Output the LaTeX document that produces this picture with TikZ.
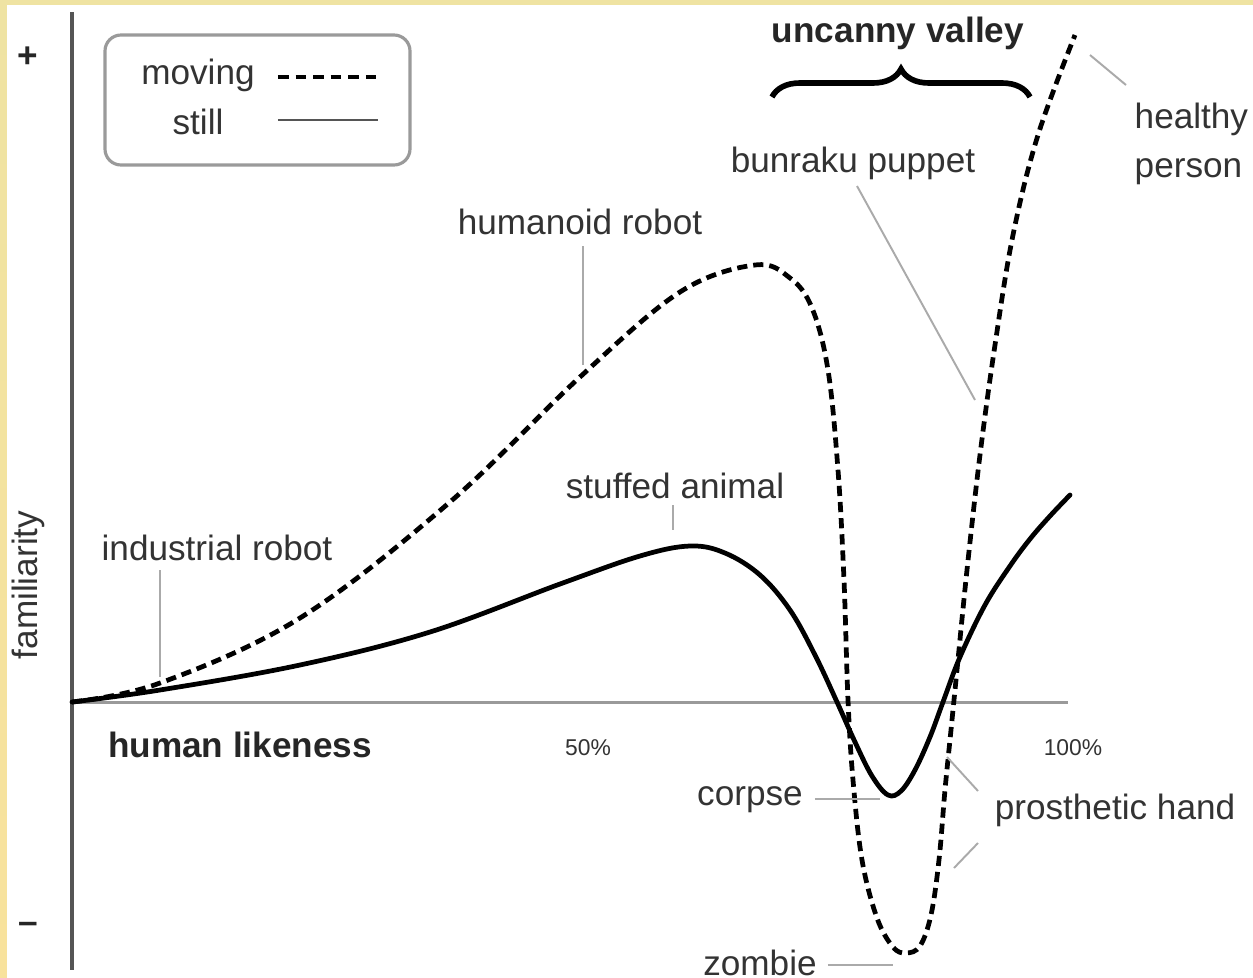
\documentclass[tikz,border=0pt]{standalone}
\usepackage{fontspec}
\setmainfont{Liberation Sans}
\usetikzlibrary{decorations.pathreplacing}
\definecolor{txt}{HTML}{333333}
\definecolor{axisdark}{HTML}{555555}
\definecolor{axislight}{HTML}{9A9A9A}
\definecolor{leadc}{HTML}{AAAAAA}
\definecolor{bandy}{HTML}{EFE3A2}
\definecolor{bandg}{HTML}{BFDDAE}
\definecolor{bandb}{HTML}{F8E29C}
\tikzset{
  lbl/.style={text=txt, font=\fontsize{10}{12}\selectfont, inner sep=0pt},
  blbl/.style={text=black!85, font=\fontsize{10}{12}\selectfont\bfseries, inner sep=0pt},
  pct/.style={text=txt, font=\fontsize{6.5}{8}\selectfont, inner sep=0pt},
  leader/.style={draw=leadc, line width=0.55pt},
  stillc/.style={draw=black, line width=1.35pt, line cap=round},
  movingc/.style={draw=black, line width=1.35pt, dash pattern=on 2.9pt off 1.7pt},
}
\begin{document}
\begin{tikzpicture}[x=0.01cm,y=-0.01cm]
\useasboundingbox (0,0) rectangle (1253,978);
\fill[white] (0,0) rectangle (1253,978);
% border bands
\fill[bandy] (0,0) rectangle (1253,5);
\shade[top color=bandy, middle color=bandg, bottom color=bandb] (0,0) rectangle (7,978);

% axes
\coordinate (O) at (72,702);
\coordinate (ytop) at (72,12);
\coordinate (ybot) at (72,970);
\coordinate (xend) at (1068,702);
\draw[axislight, line width=0.85pt] (O) -- (xend);
\draw[axisdark, line width=0.9pt] (ytop) -- (ybot);

% axis labels
\node[blbl] (plus) at (28,57) {+};
\node[blbl] (minus) at (28,928) {\textbf{–}};
\node[lbl, rotate=90] (fam) at (28,585) {familiarity};
\node[blbl] (hl) at (240,745) {human likeness};
\node[pct] (p50) at (588,748) {50\%};
\node[pct] (p100) at (1073,748) {100\%};

% legend
\draw[draw=axislight, line width=0.9pt, rounded corners=0.16cm] (105,35) rectangle (410,165);
\node[lbl] (lmov) at (198,75) {moving};
\node[lbl] (lsti) at (198,122) {still};
\coordinate (lm1) at (278,77);
\coordinate (lm2) at (381,77);
\coordinate (ls1) at (278,120);
\coordinate (ls2) at (378,120);
\draw[movingc, dash pattern=on 3pt off 2pt] (lm1) -- (lm2);
\draw[draw=axisdark, line width=0.8pt] (ls1) -- (ls2);

% uncanny valley
\node[blbl] (uv) at (898,33) {uncanny valley};
\coordinate (br1) at (772,97);
\coordinate (br2) at (1030,97);
\draw[line width=1.6pt, decorate, decoration={brace, amplitude=0.28cm}] (br1) -- (br2);

% still curve
\draw[stillc] plot[smooth, tension=0.6] coordinates {
(72,702) (160,690) (300,665) (430,632) (560,584) (640,556) (690,546)
(725,553) (760,575) (790,610) (815,655) (837,702) (855,742) (872,776) (888,795)
(901,791) (915,770) (930,737) (943,702) (960,657) (985,605) (1010,566) (1030,539)
(1050,516) (1070,495)};

% moving curve
\draw[movingc] plot[smooth, tension=0.6] coordinates {
(72,702) (160,683) (300,618) (450,502) (580,377) (680,292) (755,265)
(790,278) (812,308) (828,370) (838,470) (844,580) (848,700) (853,780) (862,860)
(877,918) (893,947) (906,953) (920,946) (931,915) (939,860) (945,790) (951,730)
(957,670) (967,570) (980,455) (995,345) (1013,235) (1038,135) (1075,35)};

% labels with leaders
\node[lbl] (ind) at (217,548) {industrial robot};
\coordinate (indA) at (160,570);
\coordinate (indB) at (160,677);
\draw[leader] (indA) -- (indB);

\node[lbl] (hum) at (580,222) {humanoid robot};
\coordinate (humA) at (583,246);
\coordinate (humB) at (583,365);
\draw[leader] (humA) -- (humB);

\node[lbl] (stf) at (675,486) {stuffed animal};
\coordinate (stfA) at (673,505);
\coordinate (stfB) at (673,530);
\draw[leader] (stfA) -- (stfB);

\node[lbl] (bun) at (853,163) {bunraku puppet};
\coordinate (bunA) at (857,186);
\coordinate (bunB) at (975,400);
\draw[leader] (bunA) -- (bunB);

\node[lbl, align=left, anchor=west] (hea) at (1134,144) {healthy\\[2pt]person};
\coordinate (heaA) at (1090,55);
\coordinate (heaB) at (1126,85);
\draw[leader] (heaA) -- (heaB);

\node[lbl] (cor) at (750,800) {corpse};
\coordinate (corA) at (815,799);
\coordinate (corB) at (880,799);
\draw[leader] (corA) -- (corB);

\node[lbl] (pro) at (1115,810) {prosthetic hand};
\coordinate (proA) at (978,791);
\coordinate (proB) at (947,757);
\coordinate (proC) at (978,843);
\coordinate (proD) at (954,868);
\draw[leader] (proA) -- (proB);
\draw[leader] (proC) -- (proD);

\node[lbl] (zom) at (760,963) {zombie};
\coordinate (zomA) at (828,965);
\coordinate (zomB) at (893,965);
\draw[leader] (zomA) -- (zomB);
\end{tikzpicture}
\end{document}
